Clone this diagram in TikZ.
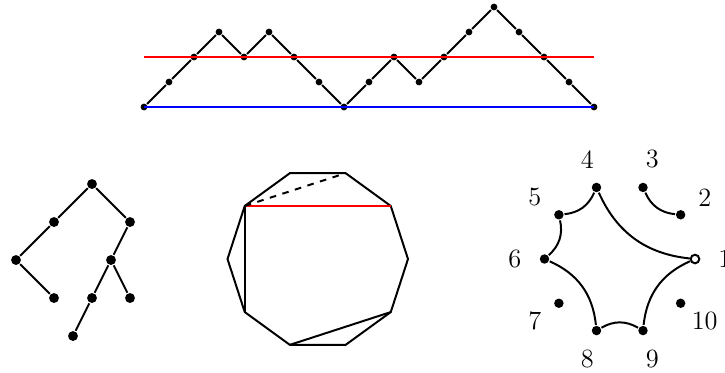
\documentclass[tikz,border=0pt]{standalone}
\usepackage{tikz}
\begin{document}
\begin{tikzpicture}[x=0.4cm,y=0.4cm,line width=0.9pt,
  dot/.style={circle,fill,inner sep=0pt,minimum size=3.1pt},
  treedot/.style={circle,fill,inner sep=0pt,minimum size=4.5pt},
  circdot/.style={circle,fill,inner sep=0pt,minimum size=4.3pt},
  opendot/.style={circle,draw,fill=white,inner sep=0pt,minimum size=3.9pt}]
  \useasboundingbox (0,0) rectangle (29,-14.88);
  % Dyck path
  \foreach \h [count=\i from 0] in {0,1,2,3,2,3,2,1,0,1,2,1,2,3,4,3,2,1,0}
    \node[dot] (d\i) at (5.76+\i,-4.28+\h) {};
  \coordinate (redl) at (5.76,-2.28);
  \coordinate (redr) at (23.76,-2.28);
  \draw[red] (redl) -- (redr);
  \draw[blue] (d0.center) -- (d18.center);
  \foreach \i [evaluate=\i as \j using int(\i+1)] in {0,...,17}
    \draw (d\i) -- (d\j);
  % binary tree
  \node[treedot] (root) at (3.68,-7.36) {};
  \node[treedot] (l) at (2.16,-8.88) {};
  \node[treedot] (r) at (5.2,-8.88) {};
  \node[treedot] (ll) at (0.64,-10.4) {};
  \node[treedot] (rl) at (4.44,-10.4) {};
  \node[treedot] (llr) at (2.16,-11.92) {};
  \node[treedot] (rll) at (3.68,-11.92) {};
  \node[treedot] (rlr) at (5.2,-11.92) {};
  \node[treedot] (rlll) at (2.92,-13.44) {};
  \draw (root) -- (l);
  \draw (root) -- (r);
  \draw (l) -- (ll);
  \draw (ll) -- (llr);
  \draw (r) -- (rl);
  \draw (rl) -- (rll);
  \draw (rl) -- (rlr);
  \draw (rll) -- (rlll);
  % decagon with diagonals
  \begin{scope}[shift={(12.71,-10.36)}]
    \foreach \i in {0,...,9}
      \coordinate (v\i) at (\i*36:3.61);
    \draw (v0) -- (v1) -- (v2) -- (v3) -- (v4) -- (v5) -- (v6) -- (v7) -- (v8) -- (v9) -- cycle;
    \draw[red,line width=1.3pt] (v4) -- (v1);
    \draw[dashed] (v4) -- (v2);
    \draw (v4) -- (v6);
    \draw (v7) -- (v9);
  \end{scope}
  % noncrossing partition
  \begin{scope}[shift={(24.79,-10.36)}]
    \foreach \i in {2,...,10}
      \node[circdot] (p\i) at ({(\i-1)*36}:3.01) {};
    \node[opendot] (p1) at (0:3.01) {};
    \foreach \i in {1,...,10}
      \node (l\i) at ({(\i-1)*36}:4.2) {\large \i};
    \draw (p1) to[bend left] (p4);
    \draw (p4) to[bend left] (p5);
    \draw (p5) to[bend left] (p6);
    \draw (p6) to[bend left] (p8);
    \draw (p8) to[bend left] (p9);
    \draw (p9) to[bend left] (p1);
    \draw (p2) to[bend left] (p3);
  \end{scope}
\end{tikzpicture}
\end{document}
